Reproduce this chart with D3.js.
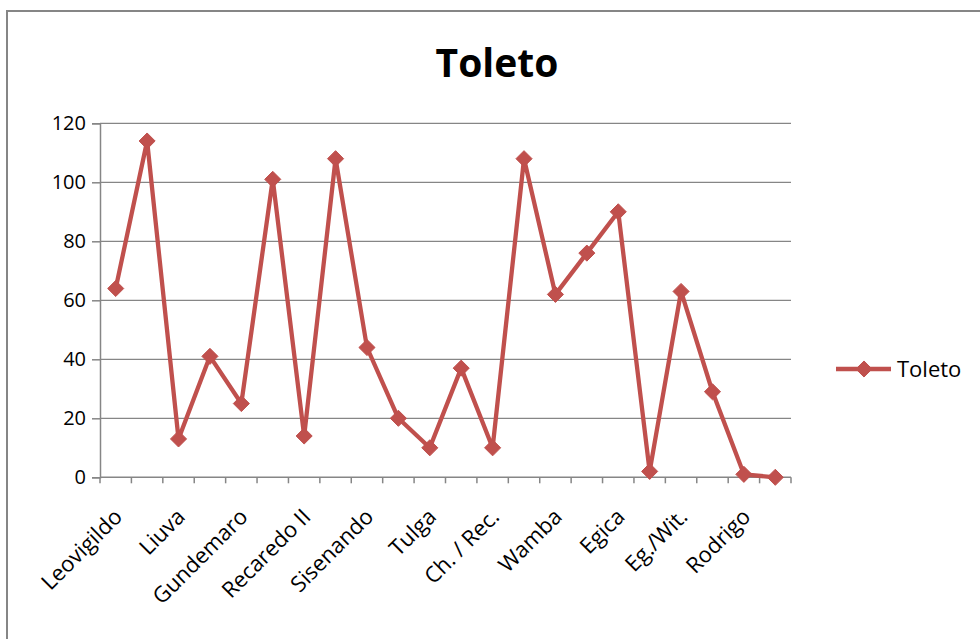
<!DOCTYPE html>
<html>
<head>
<meta charset="utf-8">
<script src="https://cdn.jsdelivr.net/npm/d3@7"></script>
<style>
  html, body { margin: 0; padding: 0; background: #fff; }
  svg { display: block; }
  text { font-family: "Open Sans", "Liberation Sans", sans-serif; fill: #000; }
</style>
</head>
<body>
<svg id="chart" width="980" height="639"></svg>
<script>
// Coin counts per reign, mint of Toletum
const chartTitle = "Toleto";
const seriesName = "Toleto";
const categories = [
  "Leovigildo", "Recaredo I", "Liuva", "Witerico", "Gundemaro", "Sisebuto",
  "Recaredo II", "Suintila", "Sisenando", "Chintila", "Tulga", "Chindasvinto",
  "Ch. / Rec.", "Recesvinto", "Wamba", "Ervigio", "Egica", "Egica / Witiza",
  "Eg./Wit.", "Witiza", "Rodrigo", "Achila"
];
const values = [64, 114, 13, 41, 25, 101, 14, 108, 44, 20, 10, 37, 10, 108, 62, 76, 90, 2, 63, 29, 1, 0];
const yTicks = [0, 20, 40, 60, 80, 100, 120];

const color = "#C0504D";
const gridColor = "#868686";

const svg = d3.select("#chart");

// chart frame (only the top and left edges fall inside the view)
svg.append("rect")
  .attr("x", 7).attr("y", 11)
  .attr("width", 1000).attr("height", 700)
  .attr("fill", "none")
  .attr("stroke", gridColor)
  .attr("stroke-width", 2);

const plot = { left: 100, right: 791, top: 123.3, bottom: 477.3 };

const x = d3.scaleBand()
  .domain(categories)
  .range([plot.left, plot.right]);

const y = d3.scaleLinear()
  .domain([0, 120])
  .range([plot.bottom, plot.top]);

// horizontal gridlines
svg.append("g")
  .selectAll("line")
  .data(yTicks.filter(d => d > 0))
  .join("line")
  .attr("x1", plot.left).attr("x2", plot.right)
  .attr("y1", d => y(d)).attr("y2", d => y(d))
  .attr("stroke", gridColor)
  .attr("stroke-width", 1.3);

// y axis
const yAxis = svg.append("g")
  .attr("transform", `translate(${plot.left},0)`)
  .call(d3.axisLeft(y).tickValues(yTicks).tickSize(8).tickPadding(6));
yAxis.select(".domain").attr("stroke", gridColor).attr("stroke-width", 1.5);
yAxis.selectAll(".tick line").attr("stroke", gridColor).attr("stroke-width", 1.5);
yAxis.selectAll(".tick text")
  .style("font-family", "'Open Sans', sans-serif")
  .style("font-size", "20px")
  .attr("fill", "#000");

// x axis: ticks on category boundaries, labels on every other category
const boundaries = d3.range(categories.length + 1).map(i => plot.left + i * x.step());
const xAxisG = svg.append("g");
xAxisG.append("line")
  .attr("x1", plot.left).attr("x2", plot.right)
  .attr("y1", plot.bottom).attr("y2", plot.bottom)
  .attr("stroke", gridColor).attr("stroke-width", 1.5);
xAxisG.selectAll("line.tk")
  .data(boundaries)
  .join("line")
  .attr("class", "tk")
  .attr("x1", d => d).attr("x2", d => d)
  .attr("y1", plot.bottom).attr("y2", plot.bottom + 6)
  .attr("stroke", gridColor).attr("stroke-width", 1.5);

xAxisG.selectAll("text")
  .data(categories.filter((d, i) => i % 2 === 0))
  .join("text")
  .attr("transform", d => `translate(${x(d) + x.bandwidth() / 2 - 3},${plot.bottom + 30}) rotate(-45)`)
  .attr("text-anchor", "end")
  .attr("dy", "0.7em")
  .style("font-size", "22px")
  .text(d => d);

// series line
const line = d3.line()
  .x((d, i) => x(categories[i]) + x.bandwidth() / 2)
  .y(d => y(d));

svg.append("path")
  .datum(values)
  .attr("d", line)
  .attr("fill", "none")
  .attr("stroke", color)
  .attr("stroke-width", 4.3)
  .attr("stroke-linejoin", "round");

const diamond = d3.symbol().type(d3.symbolDiamond2).size(165);

svg.append("g")
  .selectAll("path")
  .data(values)
  .join("path")
  .attr("transform", (d, i) => `translate(${x(categories[i]) + x.bandwidth() / 2},${y(d)})`)
  .attr("d", diamond)
  .attr("fill", color)
  .attr("stroke", color)
  .attr("stroke-width", 1);

// title
svg.append("text")
  .attr("x", 497)
  .attr("y", 77)
  .attr("text-anchor", "middle")
  .style("font-size", "39px")
  .style("font-weight", "bold")
  .text(chartTitle);

// legend
const legend = svg.append("g").attr("transform", "translate(836,369)");
legend.append("line")
  .attr("x1", 0).attr("x2", 55)
  .attr("y1", 0).attr("y2", 0)
  .attr("stroke", color).attr("stroke-width", 4.3);
legend.append("path")
  .attr("transform", "translate(28,0)")
  .attr("d", diamond)
  .attr("fill", color)
  .attr("stroke", color);
legend.append("text")
  .attr("x", 61)
  .attr("y", 0)
  .attr("dy", "0.35em")
  .style("font-size", "22px")
  .text(seriesName);
</script>
</body>
</html>
